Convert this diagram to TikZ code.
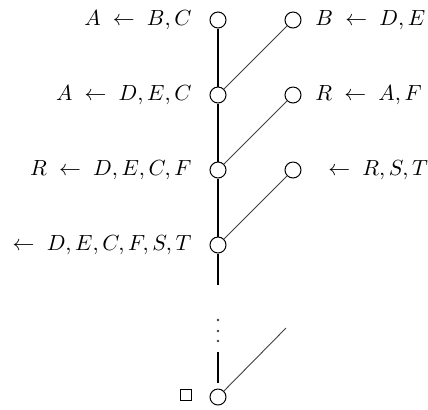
\documentclass[tikz,border=0pt]{standalone}
\begin{document}
\begin{tikzpicture}[x=0.5pt,y=-0.5pt,
  goal/.style={circle,draw=black,line width=0.5pt,fill=white,minimum size=8pt,inner sep=0pt},
  spine/.style={line width=1pt,black},
  branch/.style={line width=0.45pt,black!75},
  lbl/.style={inner sep=0pt,font=\fontsize{11}{13}\selectfont},
  dotmark/.style={circle,fill=black!75,inner sep=0pt,minimum size=1.3pt},
  endbox/.style={draw=black,line width=0.45pt,inner sep=0pt,minimum size=5.5pt}]
\useasboundingbox (0,0) rectangle (428,409);
% left column
\node[goal] (l1) at (218,20) {};
\node[goal] (l2) at (218,95) {};
\node[goal] (l3) at (218,170) {};
\node[goal] (l4) at (218,245) {};
\node[goal] (l5) at (218,397) {};
% right column
\node[goal] (r1) at (293,20) {};
\node[goal] (r2) at (293,95) {};
\node[goal] (r3) at (293,170) {};
% labels
\node[lbl,anchor=east] (t1) at (192,20) {$A\;\leftarrow\;B,C$};
\node[lbl,anchor=east] (t2) at (192,95) {$A\;\leftarrow\;D,E,C$};
\node[lbl,anchor=east] (t3) at (192,170) {$R\;\leftarrow\;D,E,C,F$};
\node[lbl,anchor=east] (t4) at (192,245) {$\leftarrow\;D,E,C,F,S,T$};
\node[lbl,anchor=west] (u1) at (315,20) {$B\;\leftarrow\;D,E$};
\node[lbl,anchor=west] (u2) at (315,95) {$R\;\leftarrow\;A,F$};
\node[lbl,anchor=west] (u3) at (328,170) {$\leftarrow\;R,S,T$};
% spine
\coordinate (s1) at (218,285);
\coordinate (s2) at (218,352);
\coordinate (s3) at (218,383);
\draw[spine] (l1) -- (l2);
\draw[spine] (l2) -- (l3);
\draw[spine] (l3) -- (l4);
\draw[spine] (l4) -- (s1);
\draw[spine] (s2) -- (s3);
\node[dotmark] (d1) at (218,320) {};
\node[dotmark] (d2) at (218,331) {};
\node[dotmark] (d3) at (218,341) {};
% branches
\draw[branch] (l2) -- (r1);
\draw[branch] (l3) -- (r2);
\draw[branch] (l4) -- (r3);
\coordinate (e5) at (286,328);
\draw[branch] (l5) -- (e5);
\node[endbox] (sq) at (186,395) {};
\end{tikzpicture}
\end{document}
